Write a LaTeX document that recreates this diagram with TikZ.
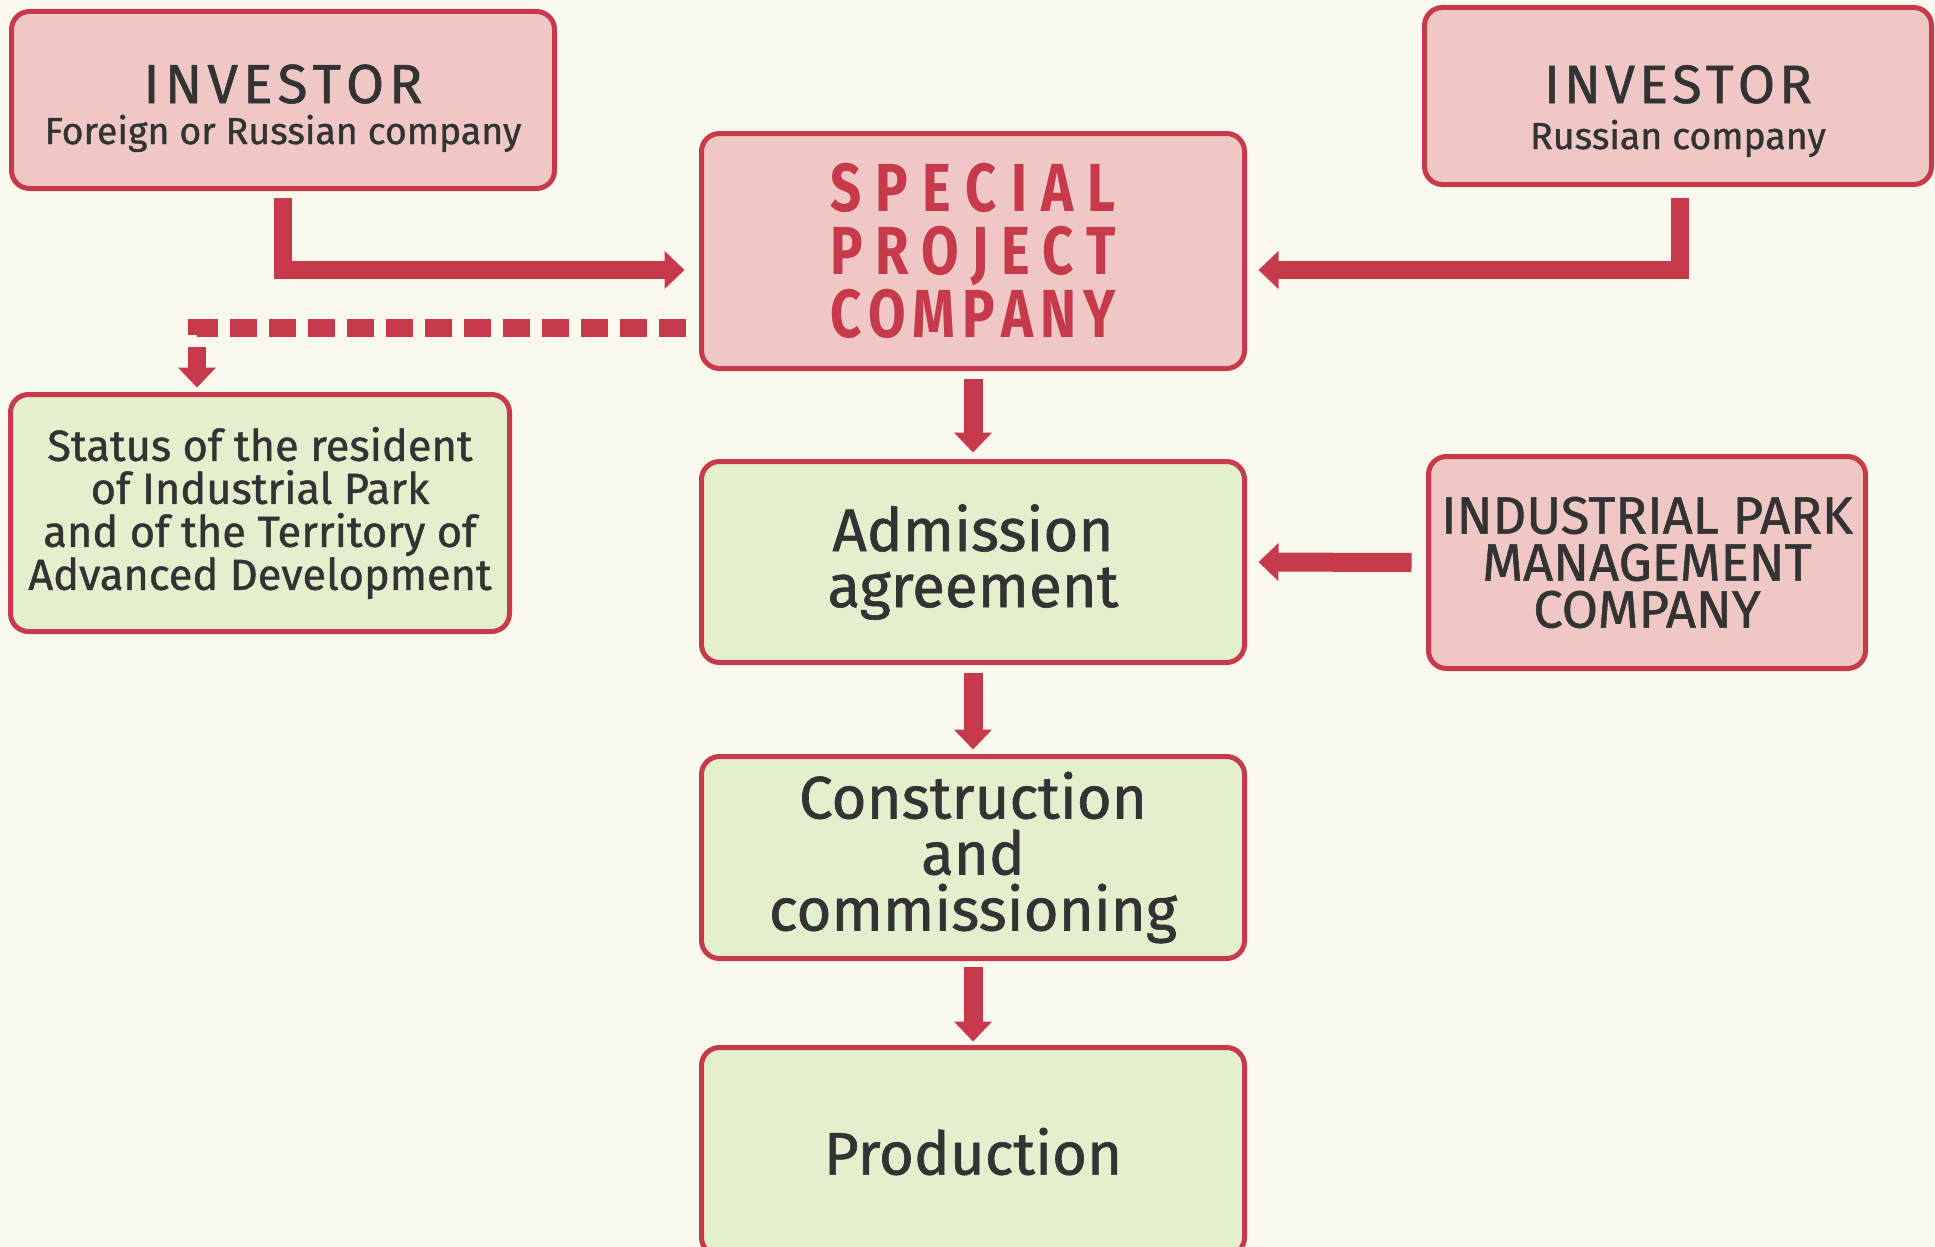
\documentclass[tikz,border=0pt]{standalone}
\usepackage{fontspec}
\setmainfont[FakeBold=1]{Fira Sans}
\newfontfamily\spcfont[FakeStretch=0.8]{Fira Sans}
\usetikzlibrary{arrows.meta,calc}
\definecolor{bgc}{HTML}{FBF9EE}
\definecolor{redc}{HTML}{C63A4B}
\definecolor{pinkc}{HTML}{EFC8C5}
\definecolor{greenc}{HTML}{E4EFCD}
\definecolor{txtc}{HTML}{333333}
\tikzset{
  box/.style={draw=redc, line width=5pt, rounded corners=18pt, inner sep=0pt, outer sep=0pt,
    align=center, text=txtc},
  pinkbox/.style={box, fill=pinkc},
  greenbox/.style={box, fill=greenc},
  bigarrow/.style={draw=redc, line width=18pt, miter limit=10,
    -{Triangle[length=20pt,width=37pt]}},
  dasharrow/.style={bigarrow, dash pattern=on 27pt off 12pt},
}
\begin{document}
\begin{tikzpicture}[x=1pt,y=-1pt]
\fill[bgc] (0,0) rectangle (1935,1247);
\useasboundingbox (0,0) rectangle (1935,1247);

\node[pinkbox, minimum width=543pt, minimum height=177pt,
  font=\fontsize{37.5}{41}\selectfont] (inv1) at (283,100)
  {{\fontsize{55}{41}\selectfont\rule{0pt}{55pt}\makebox[279pt][s]{I\hfill N\hfill V\hfill E\hfill S\hfill T\hfill O\hfill R}}\\Foreign or Russian company};
\node[pinkbox, minimum width=507pt, minimum height=177pt,
  font=\fontsize{37.5}{46}\selectfont] (inv2) at (1678,96)
  {{\fontsize{54}{46}\selectfont\rule{0pt}{68pt}\makebox[268pt][s]{I\hfill N\hfill V\hfill E\hfill S\hfill T\hfill O\hfill R}}\\Russian company};
\node[pinkbox, minimum width=543pt, minimum height=235pt, text=redc,
  font=\spcfont\bfseries\fontsize{68}{63}\selectfont] (spc) at (973,251)
  {\makebox[285pt][s]{S\hfill P\hfill E\hfill C\hfill I\hfill A\hfill L}\\
   \makebox[285pt][s]{P\hfill R\hfill O\hfill J\hfill E\hfill C\hfill T}\\
   \makebox[285pt][s]{C\hfill O\hfill M\hfill P\hfill A\hfill N\hfill Y}};
\node[greenbox, minimum width=543pt, minimum height=201pt,
  font=\fontsize{60}{56}\selectfont] (adm) at (973,562)
  {Admission\\agreement};
\node[greenbox, minimum width=543pt, minimum height=202pt,
  font=\fontsize{60}{56}\selectfont] (con) at (973,857.5)
  {Construction\\and\\commissioning};
\node[greenbox, minimum width=543pt, minimum height=208pt,
  font=\fontsize{60}{56}\selectfont] (prod) at (973,1151.5)
  {Production};
\node[greenbox, minimum width=499pt, minimum height=237pt,
  font=\fontsize{43.4}{43}\selectfont] (status) at (260,513)
  {Status of the resident\\of Industrial Park\\and of the Territory of\\Advanced Development};
\node[pinkbox, minimum width=437pt, minimum height=212pt,
  font=\fontsize{52.5}{47}\selectfont] (ipmc) at (1647,562.5)
  {INDUSTRIAL PARK\\MANAGEMENT\\COMPANY};

\draw[bigarrow] ($(inv1.south)+(0,9)$) |- ($(spc.west)+(-17,19)$);
\draw[bigarrow] ($(inv2.south)+(2,13)$) |- ($(spc.east)+(14,19)$);
\draw[dasharrow] ($(spc.west)+(-16,77)$) -| ($(status.north)+(-63,-7)$);
\draw[bigarrow, line width=19pt] ($(spc.south)+(0,10)$) -- ($(adm.north)+(0,-9)$);
\draw[bigarrow, line width=19pt] ($(adm.south)+(0,10)$) -- ($(con.north)+(0,-7)$);
\draw[bigarrow, line width=19pt] ($(con.south)+(0,8)$) -- ($(prod.north)+(0,-6)$);
\draw[bigarrow, line width=19pt] ($(ipmc.west)+(-17,0)$) -- ($(adm.east)+(14,0)$);
\end{tikzpicture}
\end{document}
